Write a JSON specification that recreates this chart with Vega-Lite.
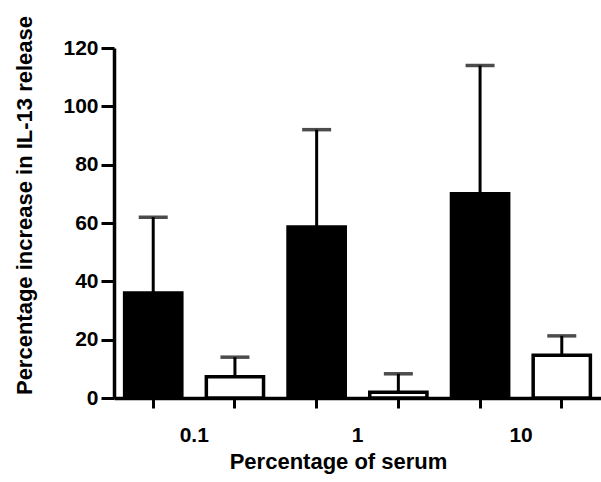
{
  "$schema": "https://vega.github.io/schema/vega-lite/v6.json",
  "autosize": "none",
  "width": 487,
  "height": 350,
  "padding": {"left": 114, "top": 48, "right": 0, "bottom": 84},
  "background": "white",
  "config": {
    "view": {"stroke": null},
    "font": "Liberation Sans",
    "axis": {
      "domainColor": "black",
      "domainWidth": 3.5,
      "tickColor": "black",
      "tickWidth": 3,
      "labelColor": "black",
      "labelFont": "Liberation Sans",
      "labelFontWeight": "bold",
      "labelFontSize": 21,
      "titleColor": "black",
      "titleFont": "Liberation Sans",
      "titleFontWeight": "bold",
      "titleFontSize": 22,
      "grid": false
    }
  },
  "data": {
    "values": [
      {"bar": "0.1_b", "cond": "b", "value": 36, "upper": 62},
      {"bar": "0.1_w", "cond": "w", "value": 7.3, "upper": 14},
      {"bar": "1_b", "cond": "b", "value": 58.6, "upper": 92},
      {"bar": "1_w", "cond": "w", "value": 2, "upper": 8.3},
      {"bar": "10_b", "cond": "b", "value": 70, "upper": 114},
      {"bar": "10_w", "cond": "w", "value": 14.7, "upper": 21.3}
    ]
  },
  "encoding": {
    "x": {
      "field": "bar",
      "type": "nominal",
      "sort": null,
      "scale": {"paddingInner": 0.3, "paddingOuter": 0.13},
      "axis": {
        "title": "Percentage of serum",
        "labelAngle": 0,
        "labelExpr": "split(datum.value, '_')[1] == 'b' ? split(datum.value, '_')[0] : ''",
        "labelOffset": 41,
        "labelPadding": 16,
        "tickSize": 10,
        "titleX": 224,
        "titleY": 70,
        "titleBaseline": "alphabetic",
        "titleAlign": "center"
      }
    }
  },
  "layer": [
    {
      "mark": {"type": "rule", "color": "black", "strokeWidth": 3},
      "encoding": {
        "y": {"field": "value", "type": "quantitative"},
        "y2": {"field": "upper"}
      }
    },
    {
      "mark": {"type": "tick", "color": "black", "thickness": 3.5, "size": 29},
      "encoding": {
        "y": {"field": "upper", "type": "quantitative"}
      }
    },
    {
      "mark": {"type": "bar", "stroke": "black", "strokeWidth": 3.5},
      "encoding": {
        "y": {
          "field": "value",
          "type": "quantitative",
          "scale": {"domain": [0, 120], "nice": false},
          "axis": {
            "title": "Percentage increase in IL-13 release",
            "values": [0, 20, 40, 60, 80, 100, 120],
            "tickSize": 13,
            "labelPadding": 3,
            "titleX": -90,
            "titleY": 157,
            "titleAngle": -90,
            "titleAlign": "center",
            "titleBaseline": "middle"
          }
        },
        "fill": {
          "field": "cond",
          "type": "nominal",
          "scale": {"domain": ["b", "w"], "range": ["black", "white"]},
          "legend": null
        }
      }
    }
  ]
}
